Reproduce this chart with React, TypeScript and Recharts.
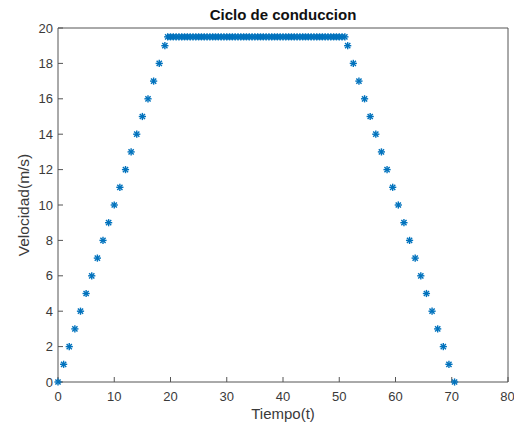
import React from 'react';
import { ScatterChart, Scatter, XAxis, YAxis, Label } from 'recharts';

// drive cycle: speed-up, cruise, slow-down
const riseTime = [0, 1, 2, 3, 4, 5, 6, 7, 8, 9, 10, 11, 12, 13, 14, 15, 16, 17, 18, 19];
const riseSpeed = [0, 1, 2, 3, 4, 5, 6, 7, 8, 9, 10, 11, 12, 13, 14, 15, 16, 17, 18, 19];

const cruiseTime = [
  19.5, 20, 20.5, 21, 21.5, 22, 22.5, 23, 23.5, 24, 24.5, 25, 25.5, 26, 26.5, 27,
  27.5, 28, 28.5, 29, 29.5, 30, 30.5, 31, 31.5, 32, 32.5, 33, 33.5, 34, 34.5, 35,
  35.5, 36, 36.5, 37, 37.5, 38, 38.5, 39, 39.5, 40, 40.5, 41, 41.5, 42, 42.5, 43,
  43.5, 44, 44.5, 45, 45.5, 46, 46.5, 47, 47.5, 48, 48.5, 49, 49.5, 50, 50.5, 51,
];
const cruiseSpeed = 19.5;

const fallTime = [51.5, 52.5, 53.5, 54.5, 55.5, 56.5, 57.5, 58.5, 59.5, 60.5, 61.5, 62.5, 63.5, 64.5, 65.5, 66.5, 67.5, 68.5, 69.5, 70.5];
const fallSpeed = [19, 18, 17, 16, 15, 14, 13, 12, 11, 10, 9, 8, 7, 6, 5, 4, 3, 2, 1, 0];

const xTicks = [0, 10, 20, 30, 40, 50, 60, 70, 80];
const yTicks = [0, 2, 4, 6, 8, 10, 12, 14, 16, 18, 20];

const points = [
  ...riseTime.map((t, i) => ({ t, v: riseSpeed[i] })),
  ...cruiseTime.map((t) => ({ t, v: cruiseSpeed })),
  ...fallTime.map((t, i) => ({ t, v: fallSpeed[i] })),
];

const FONT = '"Liberation Sans", Arial, sans-serif';
const AXIS = '#555';
const TXT = '#3a3a3a';
const BLUE = '#0072BD';

function Star(props: any) {
  const { cx, cy } = props;
  const r = 3.6;
  const d = 2.6;
  return (
    <g stroke={BLUE} strokeWidth={1.4}>
      <line x1={cx - r} y1={cy} x2={cx + r} y2={cy} />
      <line x1={cx} y1={cy - r} x2={cx} y2={cy + r} />
      <line x1={cx - d} y1={cy - d} x2={cx + d} y2={cy + d} />
      <line x1={cx - d} y1={cy + d} x2={cx + d} y2={cy - d} />
    </g>
  );
}

export default function App() {
  const tickStyle = { fontSize: 13, fill: TXT, fontFamily: FONT };
  const labelStyle = { fontSize: 15, fill: TXT, fontFamily: FONT };
  return (
    <div style={{ position: 'absolute', left: 0, top: 0, width: 514, height: 427, background: '#fff' }}>
      <div
        style={{
          position: 'absolute',
          left: 58,
          width: 450,
          top: 6,
          textAlign: 'center',
          fontFamily: FONT,
          fontWeight: 'bold',
          fontSize: 15,
          lineHeight: '18px',
          color: '#111',
        }}
      >
        Ciclo de conduccion
      </div>
      <ScatterChart width={514} height={427} margin={{ top: 18, right: 0, bottom: 0, left: 0 }}>
        <XAxis
          xAxisId="b"
          dataKey="t"
          type="number"
          domain={[0, 80]}
          ticks={xTicks}
          height={45}
          stroke={AXIS}
          tickSize={-5}
          tickMargin={15}
          tick={tickStyle}
        >
          <Label value="Tiempo(t)" position="insideBottom" offset={8} style={labelStyle} />
        </XAxis>
        <XAxis
          xAxisId="top"
          orientation="top"
          type="number"
          domain={[0, 80]}
          ticks={xTicks}
          height={10}
          stroke={AXIS}
          tickSize={-5}
          tickFormatter={() => ''}
        />
        <YAxis
          yAxisId="l"
          dataKey="v"
          type="number"
          domain={[0, 20]}
          ticks={yTicks}
          width={58}
          stroke={AXIS}
          tickSize={-5}
          tickMargin={10}
          tick={tickStyle}
        >
          <Label
            value="Velocidad(m/s)"
            angle={-90}
            position="insideLeft"
            offset={23}
            style={{ ...labelStyle, fontSize: 15.5, textAnchor: 'middle' }}
          />
        </YAxis>
        <YAxis
          yAxisId="r"
          orientation="right"
          type="number"
          domain={[0, 20]}
          ticks={yTicks}
          width={6}
          stroke={AXIS}
          tickSize={-5}
          tickFormatter={() => ''}
        />
        <Scatter data={points} xAxisId="b" yAxisId="l" shape={<Star />} isAnimationActive={false} />
      </ScatterChart>
    </div>
  );
}
